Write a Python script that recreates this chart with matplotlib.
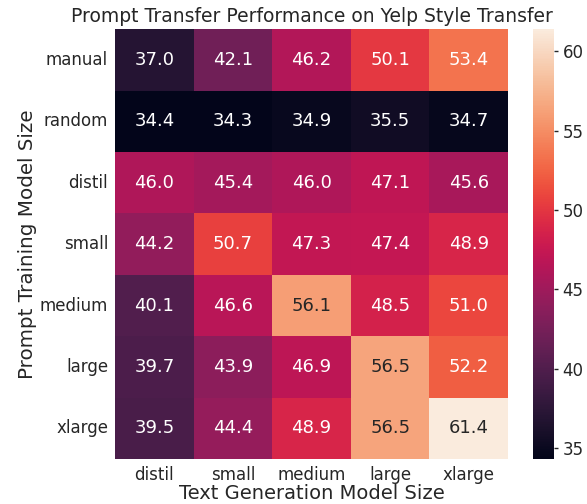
import numpy as np
import pandas as pd
import matplotlib
matplotlib.use('Agg')
import matplotlib.pyplot as plt
import seaborn as sns

train_sizes = ['manual', 'random', 'distil', 'small', 'medium', 'large', 'xlarge']
gen_sizes = ['distil', 'small', 'medium', 'large', 'xlarge']

manual = [37.0, 42.1, 46.2, 50.1, 53.4]
random_ = [34.4, 34.3, 34.9, 35.5, 34.7]
distil = [46.0, 45.4, 46.0, 47.1, 45.6]
small = [44.2, 50.7, 47.3, 47.4, 48.9]
medium = [40.1, 46.6, 56.1, 48.5, 51.0]
large = [39.7, 43.9, 46.9, 56.5, 52.2]
xlarge = [39.5, 44.4, 48.9, 56.5, 61.4]

df = pd.DataFrame([manual, random_, distil, small, medium, large, xlarge],
                  index=train_sizes, columns=gen_sizes)

sns.set_theme(style='white', font_scale=1.3)

fig = plt.figure(figsize=(5.87, 5.04), dpi=100)
ax = fig.add_axes([0.196, 0.089, 0.6695, 0.853])
cax = fig.add_axes([0.908, 0.089, 0.036, 0.853])

sns.heatmap(df, annot=True, fmt='.1f', cmap='rocket', ax=ax, cbar_ax=cax,
            annot_kws={'size': 13})

ax.set_title('Prompt Transfer Performance on Yelp Style Transfer', fontsize=13.5, pad=5)
ax.set_xlabel('Text Generation Model Size', fontsize=14, labelpad=0)
ax.set_ylabel('Prompt Training Model Size', fontsize=14.3, labelpad=2)
ax.tick_params(axis='y', rotation=0, labelsize=12, length=0, pad=5)
ax.tick_params(axis='x', labelsize=12, length=0, pad=5)
cax.tick_params(labelsize=12, length=3, width=1, pad=3, right=True)
cax.set_yticks([35, 40, 45, 50, 55, 60])

plt.savefig('out.png', dpi=100)
